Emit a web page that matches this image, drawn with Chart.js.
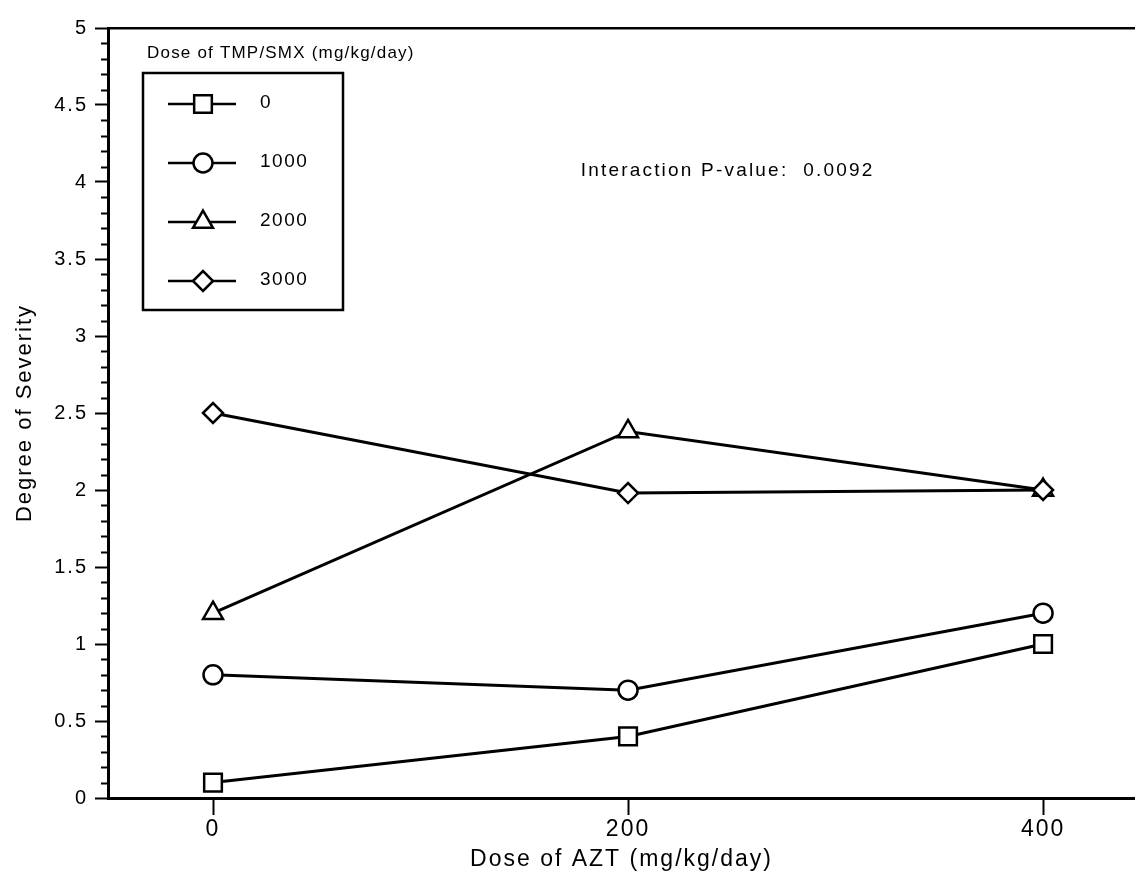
<!DOCTYPE html>
<html lang="en">
<head>
    <meta charset="UTF-8">
    <title>Degree of Severity by AZT and TMP/SMX dose</title>
    <script src="https://cdn.jsdelivr.net/npm/chart.js"></script>
    <style>
        html, body {
            margin: 0;
            overflow: hidden;
            background: #fff;
        }
        #severityChart {
            display: block;
        }
    </style>
</head>
<body>
    <canvas id="severityChart" width="1135" height="883"></canvas>
    <script>
        // AZT dose (x axis), mg/kg/day
        const aztDoses = [0, 200, 400];
        // TMP/SMX dose groups, mg/kg/day
        const tmpSmxDoses = ['0', '1000', '2000', '3000'];
        const severityTmp0 = [0.1, 0.4, 1.0];
        const severityTmp1000 = [0.8, 0.7, 1.2];
        const severityTmp2000 = [1.2, 2.38, 2.0];
        const severityTmp3000 = [2.5, 1.98, 2.0];
        const xTicks = [0, 200, 400];
        const yTicks = [0, 0.5, 1, 1.5, 2, 2.5, 3, 3.5, 4, 4.5, 5];
        const legendTitle = 'Dose of TMP/SMX (mg/kg/day)';
        const annotationText = 'Interaction P-value:  0.0092';

        const fontFamily = '"Liberation Sans", Arial, Helvetica, sans-serif';
        Chart.defaults.font.family = fontFamily;
        Chart.defaults.color = '#000';

        function toPoints(values) {
            return aztDoses.map((x, i) => ({ x: x, y: values[i] }));
        }

        const seriesValues = [severityTmp0, severityTmp1000, severityTmp2000, severityTmp3000];
        const markerStyles = ['rect', 'circle', 'triangle', 'rectRot'];
        const markerRadius = [12.5, 9.5, 11.5, 10];

        const datasets = seriesValues.map((values, i) => ({
            label: tmpSmxDoses[i],
            data: toPoints(values),
            borderColor: '#000',
            borderWidth: 3,
            pointStyle: markerStyles[i],
            pointRadius: markerRadius[i],
            pointBackgroundColor: '#fff',
            pointBorderColor: '#000',
            pointBorderWidth: 2.5,
            tension: 0,
            order: i === 3 ? 0 : 1
        }));

        // the old plot uses widely spaced type
        const spacingPlugin = {
            id: 'spacing',
            beforeDraw(chart) {
                chart.ctx.letterSpacing = '2px';
            }
        };

        // minor ticks on the y axis, the legend box and the p-value note
        const extrasPlugin = {
            id: 'extras',
            afterDraw(chart) {
                const ctx = chart.ctx;
                const yScale = chart.scales.y;
                const xScale = chart.scales.x;
                ctx.save();

                ctx.strokeStyle = '#000';
                ctx.lineWidth = 2;
                for (let i = 0; i <= 50; i++) {
                    if (i % 5 === 0) continue;
                    const py = Math.round(yScale.getPixelForValue(i / 10)) + 0.5;
                    ctx.beginPath();
                    ctx.moveTo(yScale.right - 7, py);
                    ctx.lineTo(yScale.right, py);
                    ctx.stroke();
                }

                // p-value note
                ctx.fillStyle = '#000';
                ctx.font = '19px ' + fontFamily;
                ctx.letterSpacing = '2.2px';
                ctx.textAlign = 'center';
                ctx.textBaseline = 'middle';
                ctx.fillText(annotationText, xScale.getPixelForValue(248), yScale.getPixelForValue(4.07));

                // legend
                const area = chart.chartArea;
                const left = area.left + 35;
                const top = area.top + 45;
                ctx.font = '17px ' + fontFamily;
                ctx.letterSpacing = '1.2px';
                ctx.textAlign = 'left';
                ctx.textBaseline = 'alphabetic';
                ctx.fillText(legendTitle, left + 4, top - 15);

                ctx.lineWidth = 2.5;
                ctx.strokeRect(left, top, 200, 237);

                ctx.font = '19px ' + fontFamily;
                ctx.letterSpacing = '1.5px';
                ctx.textBaseline = 'middle';
                chart.data.datasets.forEach((ds, i) => {
                    const rowY = top + 31 + i * 59;
                    ctx.lineWidth = 2.5;
                    ctx.beginPath();
                    ctx.moveTo(left + 25, rowY);
                    ctx.lineTo(left + 93, rowY);
                    ctx.stroke();
                    ctx.fillStyle = '#fff';
                    ctx.beginPath();
                    Chart.helpers.drawPoint(ctx, {
                        pointStyle: ds.pointStyle,
                        radius: ds.pointRadius,
                        borderWidth: 2.5,
                        rotation: 0
                    }, left + 60, rowY);
                    ctx.fillStyle = '#000';
                    ctx.fillText(ds.label, left + 117, rowY - 1);
                });

                ctx.restore();
            }
        };

        const ctx = document.getElementById('severityChart').getContext('2d');
        const severityChart = new Chart(ctx, {
            type: 'line',
            data: { datasets: datasets },
            plugins: [spacingPlugin, extrasPlugin],
            options: {
                responsive: false,
                animation: false,
                events: [],
                layout: {
                    autoPadding: false,
                    padding: { left: 0, right: 0, top: 28, bottom: 0 }
                },
                plugins: {
                    legend: { display: false },
                    tooltip: { enabled: false }
                },
                scales: {
                    x: {
                        type: 'linear',
                        position: 'bottom',
                        min: -50.6,
                        max: 444.3,
                        afterBuildTicks: scale => {
                            scale.ticks = xTicks.map(v => ({ value: v }));
                        },
                        afterFit: scale => {
                            scale.height = 85;
                        },
                        grid: {
                            drawOnChartArea: false,
                            tickLength: 17,
                            tickWidth: 2,
                            tickColor: '#000'
                        },
                        border: { color: '#000', width: 3 },
                        ticks: {
                            font: { size: 23 },
                            padding: 1,
                            maxRotation: 0,
                            callback: v => String(v)
                        },
                        title: {
                            display: true,
                            text: 'Dose of AZT (mg/kg/day)',
                            font: { size: 23 },
                            padding: { top: 0, bottom: 10 }
                        }
                    },
                    xTop: {
                        type: 'linear',
                        position: 'top',
                        min: -50.6,
                        max: 444.3,
                        afterFit: scale => {
                            scale.height = 0;
                        },
                        grid: { display: false, drawTicks: false },
                        ticks: { display: false },
                        border: { color: '#000', width: 2.5 }
                    },
                    y: {
                        type: 'linear',
                        position: 'left',
                        min: 0,
                        max: 5,
                        afterBuildTicks: scale => {
                            scale.ticks = yTicks.map(v => ({ value: v }));
                        },
                        afterFit: scale => {
                            scale.width = 108;
                        },
                        grid: {
                            drawOnChartArea: false,
                            tickLength: 13,
                            tickWidth: 2,
                            tickColor: '#000'
                        },
                        border: { color: '#000', width: 3 },
                        ticks: {
                            font: { size: 20 },
                            padding: 7,
                            callback: v => String(v)
                        },
                        title: {
                            display: true,
                            text: 'Degree of Severity',
                            font: { size: 22 },
                            padding: { top: 12, bottom: 0 }
                        }
                    }
                }
            }
        });
    </script>
</body>
</html>
